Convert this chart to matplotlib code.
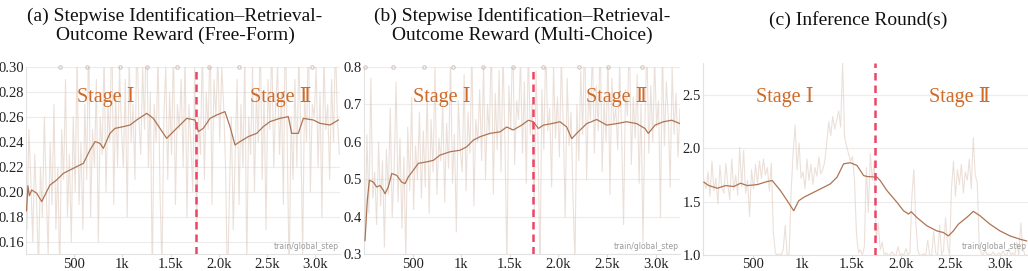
import matplotlib
matplotlib.use("Agg")
import matplotlib.pyplot as plt
import numpy as np
from matplotlib.ticker import FixedLocator, FuncFormatter

plt.rcParams["font.family"] = ["Liberation Serif", "DejaVu Serif"]

# ---------------- data ----------------
RAW_STEP = 20
raw_steps_ab = np.arange(10, 3251, RAW_STEP)
raw_steps_c = np.arange(10, 3271, RAW_STEP)

# (a) free-form reward
a_raw = [
    0.17, 0.25, 0.21, 0.16, 0.23, 0.19, 0.14, 0.22, 0.18, 0.26,
    0.20, 0.15, 0.24, 0.19, 0.27, 0.17, 0.22, 0.13, 0.25, 0.21,
    0.29, 0.18, 0.23, 0.16, 0.26, 0.20, 0.31, 0.19, 0.24, 0.17,
    0.27, 0.21, 0.33, 0.18, 0.25, 0.22, 0.29, 0.16, 0.26, 0.23,
    0.31, 0.20, 0.27, 0.24, 0.34, 0.19, 0.28, 0.22, 0.30, 0.25,
    0.22, 0.29, 0.18, 0.31, 0.24, 0.27, 0.21, 0.33, 0.26, 0.23,
    0.30, 0.25, 0.35, 0.22, 0.28, 0.13, 0.27, 0.24, 0.31, 0.20,
    0.14, 0.26, 0.30, 0.21, 0.28, 0.23, 0.32, 0.19, 0.27, 0.25,
    0.29, 0.22, 0.31, 0.18, 0.27, 0.24, 0.20, 0.30, 0.17, 0.26,
    0.23, 0.32, 0.21, 0.28, 0.25, 0.33, 0.19, 0.29, 0.26, 0.31,
    0.24, 0.30, 0.27, 0.22, 0.12, 0.20, 0.26, 0.17, 0.23, 0.29,
    0.19, 0.27, 0.22, 0.31, 0.14, 0.26, 0.23, 0.30, 0.20, 0.28,
    0.24, 0.33, 0.21, 0.28, 0.17, 0.29, 0.25, 0.32, 0.22, 0.27,
    0.30, 0.23, 0.28, 0.19, 0.34, 0.24, 0.13, 0.26, 0.21, 0.29,
    0.22, 0.31, 0.25, 0.15, 0.28, 0.24, 0.33, 0.20, 0.27, 0.26,
    0.30, 0.22, 0.28, 0.18, 0.31, 0.25, 0.27, 0.21, 0.29, 0.24, 0.32, 0.26, 0.23,
]
a_smooth_steps = [5, 20, 35, 59, 111, 163, 214, 249, 318, 387, 456, 526, 595, 664,
                  716, 768, 802, 871, 923, 1010, 1079, 1148, 1252, 1321, 1390, 1459,
                  1528, 1598, 1667, 1753, 1788, 1839, 1909, 1978, 2064, 2116, 2168,
                  2220, 2306, 2393, 2462, 2531, 2635, 2721, 2756, 2825, 2877, 2981,
                  3050, 3154, 3240]
a_smooth = [0.185, 0.205, 0.197, 0.2016, 0.1990, 0.1923, 0.2003, 0.2056, 0.2096,
            0.2149, 0.2176, 0.2203, 0.2229, 0.2336, 0.2403, 0.2389, 0.2349, 0.2469,
            0.2509, 0.2523, 0.2536, 0.2576, 0.2629, 0.2589, 0.2509, 0.2429, 0.2483,
            0.2536, 0.2589, 0.2576, 0.2483, 0.2509, 0.2589, 0.2616, 0.2643, 0.2523,
            0.2376, 0.2403, 0.2443, 0.2469, 0.2523, 0.2563, 0.2589, 0.2603, 0.2469,
            0.2469, 0.2589, 0.2576, 0.2549, 0.2536, 0.2576]
a_outliers = [353, 636, 975, 1252, 1563, 1902, 2213, 2963]

# (b) multi-choice reward
b_raw = [
    0.34, 0.62, 0.41, 0.77, 0.45, 0.52, 0.38, 0.60, 0.43, 0.55,
    0.32, 0.58, 0.46, 0.69, 0.40, 0.53, 0.76, 0.44, 0.61, 0.37,
    0.56, 0.29, 0.64, 0.47, 0.72, 0.42, 0.59, 0.50, 0.68, 0.45,
    0.63, 0.48, 0.74, 0.41, 0.66, 0.52, 0.80, 0.46, 0.61, 0.55,
    0.70, 0.44, 0.65, 0.53, 0.83, 0.49, 0.62, 0.36, 0.71, 0.58,
    0.52, 0.78, 0.47, 0.68, 0.57, 0.85, 0.43, 0.66, 0.60, 0.74,
    0.55, 0.81, 0.50, 0.70, 0.62, 0.88, 0.46, 0.73, 0.58, 0.79,
    0.52, 0.84, 0.60, 0.27, 0.75, 0.63, 0.90, 0.54, 0.71, 0.66,
    0.82, 0.57, 0.76, 0.49, 0.86, 0.62, 0.70, 0.41, 0.79, 0.60,
    0.25, 0.74, 0.58, 0.87, 0.63, 0.69, 0.48, 0.80, 0.61, 0.72,
    0.56, 0.83, 0.64, 0.40, 0.77, 0.59, 0.68, 0.45, 0.28, 0.70,
    0.55, 0.79, 0.62, 0.91, 0.50, 0.73, 0.66, 0.85, 0.57, 0.75,
    0.63, 0.88, 0.52, 0.71, 0.60, 0.84, 0.46, 0.77, 0.65, 0.69,
    0.58, 0.81, 0.62, 0.38, 0.74, 0.67, 0.89, 0.54, 0.72, 0.61,
    0.78, 0.49, 0.70, 0.33, 0.66, 0.86, 0.57, 0.75, 0.60, 0.82,
    0.64, 0.71, 0.40, 0.85, 0.59, 0.76, 0.67, 0.48, 0.80, 0.62, 0.73, 0.56, 0.69,
]
b_smooth_steps = [10, 34, 55, 96, 130, 165, 199, 216, 250, 285, 336, 388, 422, 456,
                  508, 559, 645, 713, 782, 885, 988, 1056, 1125, 1193, 1296, 1399,
                  1468, 1536, 1622, 1691, 1742, 1794, 1845, 1931, 2016, 2085, 2137,
                  2188, 2291, 2394, 2497, 2600, 2702, 2805, 2891, 2925, 2994, 3080,
                  3166, 3251]
b_smooth = [0.337, 0.444, 0.498, 0.493, 0.480, 0.484, 0.471, 0.462, 0.480, 0.516,
            0.511, 0.493, 0.489, 0.507, 0.525, 0.543, 0.547, 0.551, 0.565, 0.574,
            0.578, 0.587, 0.605, 0.614, 0.623, 0.627, 0.640, 0.632, 0.645, 0.658,
            0.654, 0.636, 0.645, 0.649, 0.654, 0.640, 0.609, 0.623, 0.649, 0.660,
            0.645, 0.649, 0.654, 0.649, 0.636, 0.623, 0.645, 0.654, 0.658, 0.649]
b_outliers = [10, 295, 617, 919, 1227, 1536, 1845, 2215, 2513, 2857]

# (c) inference rounds
c_raw = [
    1.70, 1.62, 1.78, 1.55, 1.88, 1.60, 1.72, 1.48, 1.84, 1.63,
    1.58, 1.86, 1.66, 1.52, 1.90, 1.61, 1.75, 1.56, 2.01, 1.64,
    1.98, 1.58, 1.70, 1.36, 1.80, 1.62, 1.85, 1.67, 1.88, 1.72,
    1.90, 1.75, 1.82, 1.60, 1.86, 1.22, 1.02, 1.00, 1.01, 1.00,
    1.05, 1.28, 1.00, 1.01, 1.60, 1.95, 2.22, 1.80, 2.05, 1.72,
    1.78, 1.62, 1.90, 1.70, 1.85, 1.66, 1.82, 1.74, 1.92, 1.76,
    1.80, 1.88, 2.05, 2.25, 2.12, 2.30, 2.18, 2.26, 2.35, 2.20,
    2.80, 2.10, 2.02, 1.95, 1.88, 1.92, 1.70, 1.20, 1.02, 1.05,
    1.00, 1.08, 1.82, 1.40, 1.95, 1.70, 1.88, 1.15, 1.30, 1.05,
    1.12, 1.00, 1.02, 1.00, 1.00, 1.03, 1.00, 1.00, 1.08, 1.00,
    1.01, 1.00, 1.06, 1.00, 1.02, 1.55, 1.80, 1.30, 1.04, 1.00,
    1.00, 1.01, 1.00, 1.14, 1.00, 1.00, 1.22, 1.02, 1.00, 1.28,
    1.00, 1.05, 1.35, 1.10, 1.00, 1.62, 1.88, 1.55, 1.80, 1.66,
    1.85, 1.58, 1.78, 1.70, 1.90, 1.62, 2.10, 1.75, 1.68, 1.10,
    1.02, 1.00, 1.05, 1.00, 1.01, 1.00, 1.03, 1.00, 1.00, 1.02,
    1.00, 1.04, 1.00, 1.00, 1.06, 1.00, 1.02, 1.00, 1.12, 1.00,
    1.30, 1.08, 1.00, 1.00,
]
c_smooth_steps = [9, 59, 144, 228, 311, 379, 446, 547, 648, 699, 782, 850, 916, 967,
                  1017, 1118, 1219, 1286, 1354, 1420, 1488, 1555, 1622, 1656, 1757,
                  1790, 1858, 1959, 2025, 2076, 2103, 2160, 2261, 2362, 2428, 2479,
                  2529, 2580, 2664, 2731, 2798, 2899, 3000, 3101, 3202, 3269]
c_smooth = [1.682, 1.651, 1.626, 1.651, 1.642, 1.673, 1.651, 1.660, 1.689, 1.698,
            1.604, 1.509, 1.415, 1.509, 1.541, 1.588, 1.635, 1.667, 1.730, 1.855,
            1.865, 1.840, 1.745, 1.736, 1.730, 1.698, 1.604, 1.494, 1.415, 1.384,
            1.406, 1.352, 1.274, 1.226, 1.211, 1.179, 1.226, 1.289, 1.352, 1.409,
            1.368, 1.289, 1.226, 1.179, 1.148, 1.132]

x_ticks = [500, 1000, 1500, 2000, 2500, 3000]
x_tick_labels = ["500", "1k", "1.5k", "2.0k", "2.5k", "3.0k"]

titles = [
    "(a) Stepwise Identification\u2013Retrieval-\nOutcome Reward (Free-Form)",
    "(b) Stepwise Identification\u2013Retrieval-\nOutcome Reward (Multi-Choice)",
    "(c) Inference Round(s)",
]

RAW_COLOR = "#dcc7ba"
SMOOTH_COLOR = "#ad7453"
STAGE_COLOR = "#d06a28"
DASH_COLOR = "#ee4466"
GRID_COLOR = "#ececec"

panels = [
    dict(raw=a_raw, steps=raw_steps_ab, s_steps=a_smooth_steps, smooth=a_smooth,
         outliers=a_outliers, xlim=(0, 3257), ylim=(0.15, 0.30),
         yticks=[0.16, 0.18, 0.20, 0.22, 0.24, 0.26, 0.28, 0.30], yfmt="{:.2f}",
         split=1763, rect=[0.0253, 0.0609, 0.3054, 0.6919],
         stage_x=(0.255, 0.81), stage_y=0.84, title_x=175, title_y=0.905),
    dict(raw=b_raw, steps=raw_steps_ab, s_steps=b_smooth_steps, smooth=b_smooth,
         outliers=b_outliers, xlim=(0, 3251), ylim=(0.3, 0.8),
         yticks=[0.3, 0.4, 0.5, 0.6, 0.7, 0.8], yfmt="{:.1f}",
         split=1739, rect=[0.3541, 0.0609, 0.3074, 0.6919],
         stage_x=(0.246, 0.80), stage_y=0.838, title_x=522, title_y=0.905),
    dict(raw=c_raw, steps=raw_steps_c, s_steps=c_smooth_steps, smooth=c_smooth,
         outliers=[], xlim=(0, 3282), ylim=(1.0, 2.8),
         yticks=[1.0, 1.5, 2.0, 2.5], yfmt="{:.1f}",
         split=1740, rect=[0.6839, 0.059, 0.316, 0.7085],
         stage_x=(0.252, 0.79), stage_y=0.823, title_x=858, title_y=0.925),
]

fig = plt.figure(figsize=(10.28, 2.71), dpi=100)

for i, p in enumerate(panels):
    ax = fig.add_axes(p["rect"])
    ax.plot(p["steps"], p["raw"], color=RAW_COLOR, linewidth=0.8, alpha=0.55, zorder=2)
    ax.plot(p["s_steps"], p["smooth"], color=SMOOTH_COLOR, linewidth=0.9, zorder=3)
    if p["outliers"]:
        ax.plot(p["outliers"], [p["ylim"][1]] * len(p["outliers"]), "o",
                markersize=2.5, markerfacecolor="none", markeredgecolor="#c8b8ae",
                markeredgewidth=0.6, clip_on=False, zorder=4)
    ax.axvline(p["split"], color=DASH_COLOR, linewidth=1.8, linestyle=(0, (3, 2)),
               zorder=5)

    ax.set_xlim(*p["xlim"])
    ax.set_ylim(*p["ylim"])
    ax.xaxis.set_major_locator(FixedLocator(x_ticks))
    ax.set_xticklabels(x_tick_labels)
    ax.yaxis.set_major_locator(FixedLocator(p["yticks"]))
    ax.yaxis.set_major_formatter(FuncFormatter(lambda v, _, f=p["yfmt"]: f.format(v)))
    ax.tick_params(axis="both", labelsize=10.5, colors="#222222", pad=1.5)
    ax.tick_params(axis="y", length=0)
    ax.tick_params(axis="x", length=2, color="#dddddd", pad=0.5)
    ax.grid(axis="y", color=GRID_COLOR, linewidth=0.8, zorder=0)
    for side in ("top", "right"):
        ax.spines[side].set_visible(False)
    for side in ("left", "bottom"):
        ax.spines[side].set_color("#e2e2e2")
        ax.spines[side].set_linewidth(0.8)

    for label, sx in zip(["Stage \u2160", "Stage \u2161"], p["stage_x"]):
        ax.text(sx, p["stage_y"], label, transform=ax.transAxes, ha="center",
                va="center", fontsize=14.5, color=STAGE_COLOR, zorder=6)
    ax.text(0.995, 0.02, "train/global_step", transform=ax.transAxes, ha="right",
            va="bottom", fontsize=5.5, color="#9a9a9a", family="DejaVu Sans",
            zorder=6)

    fig.text(p["title_x"] / 1028, p["title_y"], titles[i], ha="center", va="center",
             fontsize=14, color="#111111", linespacing=1.1)

fig.savefig("out.png", dpi=100)
